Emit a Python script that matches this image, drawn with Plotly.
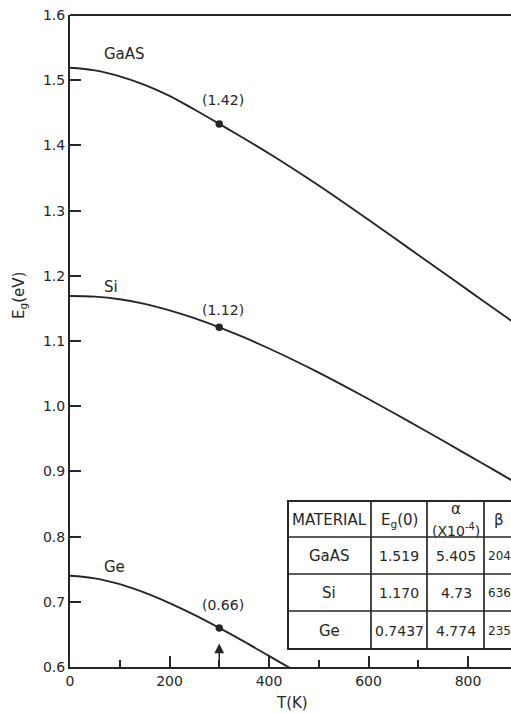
import plotly.graph_objects as go

# ---------------- data ----------------
T_K = [0, 50, 100, 150, 200, 250, 300, 350, 400, 450, 500, 550, 600, 650,
       700, 750, 800, 850, 900, 950, 1000]
eg_gaas = [1.519, 1.515, 1.506, 1.493, 1.476, 1.455, 1.433, 1.4105, 1.3875, 1.3635,
           1.3385, 1.3125, 1.286, 1.259, 1.232, 1.205, 1.178, 1.151, 1.124, 1.097, 1.070]
eg_si = [1.169, 1.168, 1.164, 1.157, 1.147, 1.135, 1.121, 1.1055, 1.0885, 1.0705,
         1.0515, 1.0315, 1.011, 0.990, 0.9685, 0.947, 0.925, 0.903, 0.881, 0.859, 0.837]
T_ge = [0, 50, 100, 150, 200, 250, 300, 350, 400, 450, 500]
eg_ge = [0.740, 0.736, 0.727, 0.714, 0.698, 0.680, 0.660, 0.639, 0.617, 0.595, 0.573]

curve_names = ["GaAS", "Si", "Ge"]
room_T = 300
room_eg = [1.433, 1.121, 0.660]
room_labels = ["(1.42)", "(1.12)", "(0.66)"]

x_ticks = [0, 200, 400, 600, 800]
y_ticks = [0.6, 0.7, 0.8, 0.9, 1.0, 1.1, 1.2, 1.3, 1.4, 1.5, 1.6]

tbl_header = ["MATERIAL", "E<sub>g</sub>(0)", "α", "(X10<sup>-4</sup>)", "β"]
tbl_material = ["GaAS", "Si", "Ge"]
tbl_eg0 = ["1.519", "1.170", "0.7437"]
tbl_alpha = ["5.405", "4.73", "4.774"]
tbl_beta = ["204", "636", "235"]

# ---------------- style ----------------
INK = "#262626"
FONT = "DejaVu Sans"
W, H = 511, 713
L, T, B = 70, 15, 46
PW, PH = W - L, H - T - B
XMAX = PW / 0.4975

def px(xp):
    return (xp - L) / PW

def py(yp):
    return (H - B - yp) / PH

fig = go.Figure()
for xs, ys, nm in [(T_K, eg_gaas, curve_names[0]), (T_K, eg_si, curve_names[1]),
                   (T_ge, eg_ge, curve_names[2])]:
    fig.add_trace(go.Scatter(x=xs, y=ys, mode="lines", name=nm,
                             line=dict(color=INK, width=1.9, shape="spline", smoothing=1.0),
                             showlegend=False, hoverinfo="skip"))
fig.add_trace(go.Scatter(x=[room_T] * 3, y=room_eg, mode="markers",
                         marker=dict(color=INK, size=7.5), showlegend=False, hoverinfo="skip"))

F_LET = dict(family=FONT, size=15, color=INK)
F_NUM = dict(family=FONT, size=14, color=INK)

ann = []
for nm, yv in zip(curve_names, [1.540, 1.183, 0.753]):
    ann.append(dict(x=64, y=yv, xref="x", yref="y", text=nm, showarrow=False,
                    xanchor="left", yanchor="middle", font=F_LET))
for lab, yv in zip(room_labels, [1.470, 1.1475, 0.695]):
    ann.append(dict(x=307, y=yv, xref="x", yref="y", text=lab, showarrow=False,
                    xanchor="center", yanchor="middle", font=F_NUM))
ann.append(dict(x=room_T, y=0.636, ax=room_T, ay=0.6, xref="x", yref="y", axref="x", ayref="y",
                text="", showarrow=True, arrowhead=2, arrowsize=1.3, arrowwidth=1.5, arrowcolor=INK))
ann.append(dict(x=0, y=py(296), xref="paper", yref="paper", xshift=-50, text="E<sub>g</sub>(eV)",
                textangle=-90, showarrow=False, xanchor="center", yanchor="middle", font=F_LET))
ann.append(dict(x=px(292), y=0, xref="paper", yref="paper", yshift=-36, text="T(K)",
                showarrow=False, xanchor="center", yanchor="middle", font=F_LET))

# table
col_edges = [288, 371, 427, 484, 540]
row_edges = [501, 537, 574, 611, 649]
shapes = [dict(type="rect", xref="paper", yref="paper", x0=px(col_edges[0]), x1=px(col_edges[-1]),
               y0=py(row_edges[-1]), y1=py(row_edges[0]), line=dict(color=INK, width=2),
               fillcolor="white", layer="above")]
for c in col_edges[1:-1]:
    shapes.append(dict(type="line", xref="paper", yref="paper", x0=px(c), x1=px(c),
                       y0=py(row_edges[-1]), y1=py(row_edges[0]), line=dict(color=INK, width=1.7)))
for r in row_edges[1:-1]:
    shapes.append(dict(type="line", xref="paper", yref="paper", x0=px(col_edges[0]), x1=px(col_edges[-1]),
                       y0=py(r), y1=py(r), line=dict(color=INK, width=1.7)))
shapes.append(dict(type="line", xref="paper", yref="paper", x0=0, x1=1, y0=1, y1=1,
                   line=dict(color=INK, width=2)))

col_cx = [329, 399, 456, 499]
row_cy = [520, 556, 593, 631]

def cell(xp, yp, text, font, xanchor="center"):
    ann.append(dict(x=px(xp), y=py(yp), xref="paper", yref="paper", text=text,
                    showarrow=False, xanchor=xanchor, yanchor="middle", font=font))

cell(col_cx[0], row_cy[0], tbl_header[0], F_LET)
cell(col_cx[1], row_cy[0], tbl_header[1], F_LET)
cell(col_cx[2], 509, tbl_header[2], F_LET)
cell(col_cx[2], 530, tbl_header[3], dict(family=FONT, size=14, color=INK))
cell(col_cx[3], row_cy[0], tbl_header[4], F_LET)
for i in range(3):
    cell(col_cx[0], row_cy[i + 1], tbl_material[i], F_LET)
    cell(col_cx[1], row_cy[i + 1], tbl_eg0[i], F_NUM)
    cell(col_cx[2], row_cy[i + 1], tbl_alpha[i], F_NUM)
    cell(485.5, row_cy[i + 1], tbl_beta[i], dict(family=FONT, size=12, color=INK), xanchor="left")

fig.update_layout(
    width=W, height=H, margin=dict(l=L, r=0, t=T, b=B, pad=0),
    paper_bgcolor="white", plot_bgcolor="white",
    annotations=ann, shapes=shapes,
    font=dict(family=FONT, size=14, color=INK),
    xaxis=dict(range=[0, XMAX], tickvals=x_ticks, ticks="inside", ticklen=11, tickwidth=1.5,
               tickcolor=INK, showline=True, linewidth=2, linecolor=INK, showgrid=False,
               zeroline=False, tickfont=F_NUM,
               minor=dict(dtick=100, tick0=0, ticks="inside", ticklen=7, tickwidth=1.5, tickcolor=INK)),
    yaxis=dict(range=[0.6, 1.6], tickvals=y_ticks, tickformat=".1f", ticks="inside", ticklen=11,
               tickwidth=1.5, tickcolor=INK, showline=True, linewidth=2, linecolor=INK,
               showgrid=False, zeroline=False, tickfont=F_NUM),
)
fig.write_html("out.html", config={"displayModeBar": False},
               post_script="document.body.style.margin='0';document.body.style.overflow='hidden';")
